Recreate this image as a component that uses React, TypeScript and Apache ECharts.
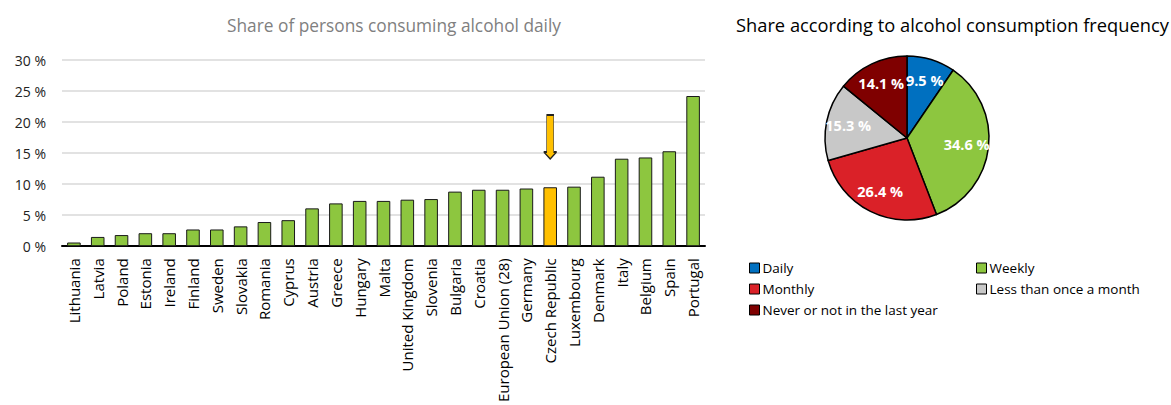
import React, { useEffect, useRef } from "react";
import * as echarts from "echarts";

const countries = [
  "Lithuania", "Latvia", "Poland", "Estonia", "Ireland", "Finland", "Sweden",
  "Slovakia", "Romania", "Cyprus", "Austria", "Greece", "Hungary", "Malta",
  "United Kingdom", "Slovenia", "Bulgaria", "Croatia", "European Union (28)",
  "Germany", "Czech Republic", "Luxembourg", "Denmark", "Italy", "Belgium",
  "Spain", "Portugal",
];
const dailyShare = [
  0.6, 1.5, 1.8, 2.1, 2.1, 2.7, 2.7, 3.2, 3.9, 4.2, 6.1, 6.9, 7.3, 7.3,
  7.5, 7.6, 8.8, 9.1, 9.1, 9.3, 9.5, 9.6, 11.2, 14.1, 14.3, 15.3, 24.2,
];
const yTicks = [0, 5, 10, 15, 20, 25, 30];
const highlighted = "Czech Republic";

const frequencyNames = [
  "Daily", "Weekly", "Monthly", "Less than once a month", "Never or not in the last year",
];
const frequencyShares = [9.5, 34.6, 26.4, 15.3, 14.1];
const frequencyColors = ["#0070C0", "#8DC63F", "#DA2128", "#C8C8C8", "#7F0000"];

const FONT = "'Open Sans', 'Noto Sans', sans-serif";

export default function App() {
  const ref = useRef<HTMLDivElement>(null);
  useEffect(() => {
    if (!ref.current) return;
    const chart = echarts.init(ref.current, null, { renderer: "svg" });
    const barData = dailyShare.map((v, i) =>
      countries[i] === highlighted
        ? { value: v, itemStyle: { color: "#FFC000" } }
        : v
    );
    const pieData = frequencyNames.map((n, i) => ({
      name: n,
      value: frequencyShares[i],
      itemStyle: { color: frequencyColors[i] },
    }));
    const arrowPath = "path://M3,0 L10,0 L10,37 L13,37 L6.5,44 L0,37 L3,37 Z";
    const legendText = { fontFamily: FONT, fontSize: 13.5, color: "#000", padding: [0, 0, 0, -2] };
    chart.setOption({
      animation: false,
      textStyle: { fontFamily: FONT },
      title: [
        {
          text: "Share of persons consuming alcohol daily",
          left: 389,
          top: 12,
          textAlign: "center",
          textStyle: { fontFamily: FONT, fontSize: 17.3, fontWeight: "normal", color: "#808080" },
        },
        {
          text: "Share according to alcohol consumption frequency",
          left: 731,
          top: 10,
          textStyle: { fontFamily: FONT, fontSize: 18.3, fontWeight: "normal", color: "#000" },
        },
      ],
      grid: { left: 62, right: 466, top: 60, bottom: 157, containLabel: false },
      xAxis: {
        type: "category",
        data: countries,
        axisLine: { lineStyle: { color: "#000", width: 2 } },
        axisTick: { inside: true, length: 4, lineStyle: { color: "#000", width: 2 } },
        axisLabel: {
          rotate: 90,
          interval: 0,
          margin: 12,
          fontFamily: FONT,
          fontSize: 15,
          color: "#000",
        },
      },
      yAxis: {
        type: "value",
        min: yTicks[0],
        max: yTicks[yTicks.length - 1],
        interval: 5,
        axisLine: { show: false },
        axisTick: { show: false },
        splitLine: { lineStyle: { color: "#D9D9D9", width: 1.5 } },
        axisLabel: {
          formatter: "{value} %",
          fontFamily: FONT,
          fontSize: 14,
          color: "#222",
          margin: 16,
        },
      },
      legend: [
        {
          data: ["Daily", "Monthly", "Never or not in the last year"],
          orient: "vertical",
          left: 744,
          top: 256,
          itemWidth: 10,
          itemHeight: 10,
          itemGap: 7,
          icon: "rect",
          itemStyle: { borderColor: "#000", borderWidth: 1 },
          textStyle: legendText,
          selectedMode: false,
        },
        {
          data: ["Weekly", "Less than once a month"],
          orient: "vertical",
          left: 971,
          top: 256,
          itemWidth: 10,
          itemHeight: 10,
          itemGap: 7,
          icon: "rect",
          itemStyle: { borderColor: "#000", borderWidth: 1 },
          textStyle: legendText,
          selectedMode: false,
        },
      ],
      series: [
        {
          type: "bar",
          data: barData,
          barWidth: "57%",
          itemStyle: { color: "#8DC63F", borderColor: "#1a1a1a", borderWidth: 1 },
          markPoint: {
            silent: true,
            data: [
              {
                coord: [highlighted, 17.6],
                symbol: arrowPath,
                symbolSize: [13, 44],
                symbolKeepAspect: false,
                itemStyle: { color: "#FFC000", borderColor: "#222", borderWidth: 1 },
                label: { show: false },
              },
            ],
          },
        },
        {
          type: "pie",
          center: [907, 138],
          radius: [0, 82],
          startAngle: 90,
          clockwise: true,
          data: pieData,
          itemStyle: { borderColor: "#000", borderWidth: 1.5 },
          label: { show: false },
          labelLine: { show: false },
          silent: true,
        },
        {
          type: "pie",
          center: [907, 138],
          radius: [38, 76],
          startAngle: 90,
          clockwise: true,
          data: pieData.map((d) => ({ name: d.name, value: d.value, itemStyle: { color: "rgba(0,0,0,0)" } })),
          itemStyle: { borderWidth: 0 },
          label: {
            show: true,
            position: "inside",
            formatter: (p: any) => p.value.toFixed(1) + " %",
            color: "#fff",
            fontFamily: FONT,
            fontWeight: "bold",
            fontSize: 14.5,
          },
          labelLine: { show: false },
          silent: true,
          legendHoverLink: false,
        },
      ],
    });
    return () => chart.dispose();
  }, []);
  return (
    <div
      ref={ref}
      style={{ position: "absolute", left: 0, top: 0, width: 1171, height: 405, background: "#fff" }}
    />
  );
}
